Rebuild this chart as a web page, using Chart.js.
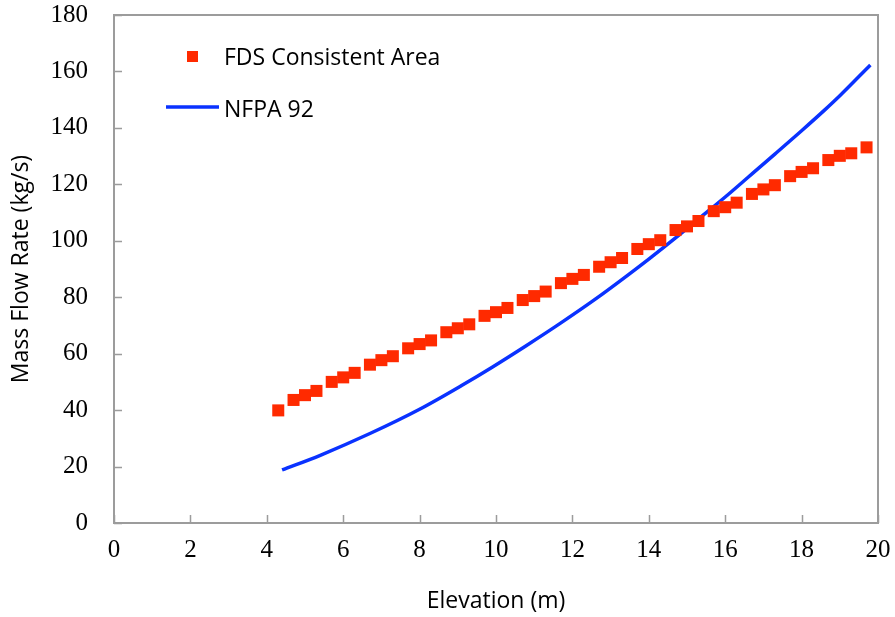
<!DOCTYPE html>
<html>
<head>
<meta charset="utf-8">
<script src="https://cdn.jsdelivr.net/npm/chart.js@4.4.1/dist/chart.umd.min.js"></script>
<style>
  html, body { margin: 0; padding: 0; background: #fff; }
  #wrap { width: 895px; height: 617px; }
</style>
</head>
<body>
<div id="wrap"><canvas id="flowChart"></canvas></div>
<script>
// FDS results, elevation (m) vs. mass flow (kg/s)
const fdsElevation = [4.3, 4.7, 5.0, 5.3, 5.7, 6.0, 6.3, 6.7, 7.0, 7.3, 7.7, 8.0, 8.3, 8.7, 9.0, 9.3,
  9.7, 10.0, 10.3, 10.7, 11.0, 11.3, 11.7, 12.0, 12.3, 12.7, 13.0, 13.3, 13.7, 14.0, 14.3, 14.7,
  15.0, 15.3, 15.7, 16.0, 16.3, 16.7, 17.0, 17.3, 17.7, 18.0, 18.3, 18.7, 19.0, 19.3, 19.7];
const fdsMassFlow = [39.9, 43.6, 45.3, 46.8, 50.0, 51.6, 53.2, 56.1, 57.7, 59.1, 61.9, 63.4, 64.7, 67.6, 69.0, 70.4,
  73.4, 74.7, 76.2, 79.0, 80.4, 82.0, 85.0, 86.5, 87.9, 90.8, 92.4, 93.9, 97.1, 98.8, 100.2, 103.8,
  105.1, 107.0, 110.5, 111.9, 113.5, 116.6, 118.2, 119.7, 122.9, 124.4, 125.7, 128.6, 130.1, 131.0, 133.1];

// NFPA 92 plume correlation curve
const nfpaElevation = [4.4, 5.4, 6.7, 8.0, 9.1, 9.9, 10.8, 11.7, 12.6, 13.4, 14.0, 14.7, 15.3, 16.0,
  16.6, 17.3, 18.0, 18.6, 19.0, 19.8];
const nfpaMassFlow = [18.8, 24.0, 31.7, 40.3, 48.7, 55.2, 62.9, 70.9, 79.3, 87.3, 93.5, 101.0, 107.7, 115.5,
  122.5, 130.7, 139.0, 146.3, 151.4, 162.3];

const xTicks = [0, 2, 4, 6, 8, 10, 12, 14, 16, 18, 20];
const yTicks = [0, 20, 40, 60, 80, 100, 120, 140, 160, 180];

const seriesNames = ['FDS Consistent Area', 'NFPA 92'];
const red = '#ff2a00';
const blue = '#0a32ff';
const frameGrey = '#9c9c9c';
const sansFont = '"Open Sans", sans-serif';

const toPoints = (xs, ys) => xs.map((x, i) => ({ x: x, y: ys[i] }));

// box around the plot with tick marks pointing inward
const frameTicks = {
  id: 'frameTicks',
  beforeDatasetsDraw(chart) {
    const { ctx, chartArea: a, scales } = chart;
    ctx.save();
    ctx.strokeStyle = frameGrey;
    ctx.lineWidth = 2;
    ctx.strokeRect(a.left, a.top, a.right - a.left, a.bottom - a.top);
    ctx.lineWidth = 1.5;
    ctx.beginPath();
    xTicks.forEach(v => {
      const px = Math.round(scales.x.getPixelForValue(v)) + 0.5;
      ctx.moveTo(px, a.bottom);
      ctx.lineTo(px, a.bottom - 8);
    });
    yTicks.forEach(v => {
      const py = Math.round(scales.y.getPixelForValue(v)) + 0.5;
      ctx.moveTo(a.left, py);
      ctx.lineTo(a.left + 8, py);
    });
    ctx.stroke();
    ctx.restore();
  }
};

// legend sits inside the plot, upper left
const insideLegend = {
  id: 'insideLegend',
  afterDraw(chart) {
    const ctx = chart.ctx;
    ctx.save();
    ctx.font = '23px ' + sansFont;
    ctx.textBaseline = 'middle';
    ctx.fillStyle = red;
    ctx.fillRect(187, 51, 11, 11);
    ctx.fillStyle = '#000';
    ctx.fillText(seriesNames[0], 224, 58);
    ctx.strokeStyle = blue;
    ctx.lineWidth = 3.5;
    ctx.beginPath();
    ctx.moveTo(166, 107);
    ctx.lineTo(219, 107);
    ctx.stroke();
    ctx.fillText(seriesNames[1], 224, 110);
    ctx.restore();
  }
};

new Chart(document.getElementById('flowChart'), {
  type: 'scatter',
  data: {
    datasets: [{
      label: seriesNames[0],
      data: toPoints(fdsElevation, fdsMassFlow),
      pointStyle: 'rect',
      pointRadius: 8.5,
      pointBackgroundColor: red,
      pointBorderWidth: 0,
      showLine: false
    }, {
      label: seriesNames[1],
      data: toPoints(nfpaElevation, nfpaMassFlow),
      showLine: true,
      borderColor: blue,
      borderWidth: 3.5,
      pointRadius: 0,
      cubicInterpolationMode: 'monotone'
    }]
  },
  options: {
    responsive: true,
    maintainAspectRatio: false,
    animation: false,
    layout: { padding: { top: 15, right: 17, left: 0, bottom: 0 } },
    plugins: {
      legend: { display: false },
      tooltip: { enabled: false }
    },
    scales: {
      x: {
        type: 'linear',
        min: 0,
        max: 20,
        afterBuildTicks: axis => { axis.ticks = xTicks.map(v => ({ value: v })); },
        afterFit: axis => {
          axis.height = 94;
          axis.paddingLeft = 0;
          axis.paddingRight = 0;
        },
        grid: { display: false, drawTicks: false },
        border: { display: false },
        ticks: {
          padding: 12,
          color: '#000',
          font: { family: '"Liberation Serif", serif', size: 25 }
        },
        title: {
          display: true,
          text: 'Elevation (m)',
          color: '#000',
          font: { family: sansFont, size: 23 },
          padding: { top: 0, bottom: 2 }
        }
      },
      y: {
        type: 'linear',
        min: 0,
        max: 180,
        afterBuildTicks: axis => { axis.ticks = yTicks.map(v => ({ value: v })); },
        afterFit: axis => {
          axis.width = 114;
          axis.paddingTop = 0;
          axis.paddingBottom = 0;
        },
        grid: { display: false, drawTicks: false },
        border: { display: false },
        ticks: {
          padding: 26,
          color: '#000',
          font: { family: '"Liberation Serif", serif', size: 25 }
        },
        title: {
          display: true,
          text: 'Mass Flow Rate (kg/s)',
          color: '#000',
          font: { family: sansFont, size: 23 },
          padding: { top: 8, bottom: 0 }
        }
      }
    }
  },
  plugins: [frameTicks, insideLegend]
});
</script>
</body>
</html>
